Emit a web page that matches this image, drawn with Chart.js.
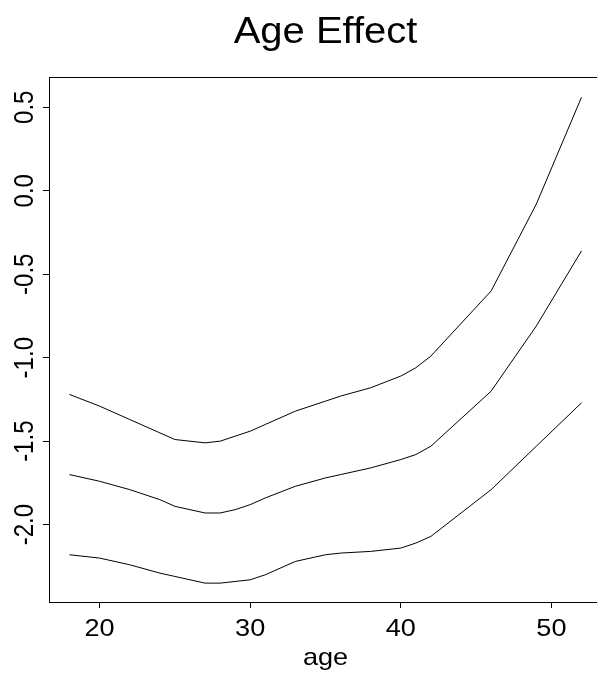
<!DOCTYPE html>
<html>
<head>
<meta charset="utf-8">
<script src="https://cdn.jsdelivr.net/npm/chart.js@4/dist/chart.umd.min.js"></script>
<style>
html,body{margin:0;padding:0;background:#fff;overflow:hidden;width:597px;height:673px;}
canvas{display:block;}
</style>
</head>
<body>
<canvas id="c" width="610" height="673"></canvas>
<script>
const ages  = [18,20,22,24,25,26,27,28,29,30,31,33,35,36,38,40,41,42,46,49,52];
const upper = [-1.22,-1.29,-1.37,-1.45,-1.49,-1.50,-1.51,-1.50,-1.47,-1.44,-1.40,-1.32,-1.26,-1.23,-1.18,-1.11,-1.06,-0.99,-0.60,-0.08,0.56];
const middle= [-1.70,-1.74,-1.79,-1.85,-1.89,-1.91,-1.93,-1.93,-1.91,-1.88,-1.84,-1.77,-1.72,-1.70,-1.66,-1.61,-1.58,-1.53,-1.20,-0.81,-0.36];
const lower = [-2.18,-2.20,-2.24,-2.29,-2.31,-2.33,-2.35,-2.35,-2.34,-2.33,-2.30,-2.22,-2.18,-2.17,-2.16,-2.14,-2.11,-2.07,-1.79,-1.53,-1.27];
const xTicks = [20,30,40,50];
const yTicks = [-2.0,-1.5,-1.0,-0.5,0.0,0.5];
const yTickLabels = ["-2.0","-1.5","-1.0","-0.5","0.0","0.5"];
const titleText = "Age Effect";
const xTitle = "age";

const FONT = '"Liberation Sans", Arial, Helvetica, sans-serif';
const STRETCH = 1.13;

function pts(ys){ return ages.map((a,i)=>({x:a,y:ys[i]})); }
function ds(ys){ return {data:pts(ys),borderColor:'#000',borderWidth:1,pointRadius:0,tension:0,fill:false}; }

const textPlugin = {
  id:'rtext',
  afterDraw(chart){
    const ctx = chart.ctx, a = chart.chartArea;
    const xs = chart.scales.x, ys = chart.scales.y;
    ctx.save();
    // box
    ctx.strokeStyle = '#000'; ctx.lineWidth = 1;
    ctx.beginPath();
    ctx.moveTo(Math.round(a.left)+0.5, Math.round(a.top)+0.5);
    ctx.lineTo(Math.round(a.right)+0.5, Math.round(a.top)+0.5);
    ctx.lineTo(Math.round(a.right)+0.5, Math.round(a.bottom)+0.5);
    ctx.stroke();
    ctx.fillStyle = '#000';
    // title
    ctx.font = '36px ' + FONT;
    ctx.textAlign = 'center'; ctx.textBaseline = 'alphabetic';
    ctx.save(); ctx.translate((a.left+a.right)/2, 42.5); ctx.scale(1.11,1); ctx.fillText(titleText,0,0); ctx.restore();
    // x tick labels
    ctx.font = '24px ' + FONT;
    xTicks.forEach(v=>{
      ctx.save(); ctx.translate(xs.getPixelForValue(v), 636); ctx.scale(STRETCH,1); ctx.fillText(String(v),0,0); ctx.restore();
    });
    // x title
    ctx.save(); ctx.translate((a.left+a.right)/2, 665); ctx.scale(STRETCH,1); ctx.fillText(xTitle,0,0); ctx.restore();
    // y tick labels
    yTicks.forEach((v,i)=>{
      ctx.save(); ctx.translate(33.3, ys.getPixelForValue(v)); ctx.scale(STRETCH,1); ctx.rotate(-Math.PI/2);
      ctx.fillText(yTickLabels[i],0,0); ctx.restore();
    });
    ctx.restore();
  }
};

new Chart(document.getElementById('c'), {
  type:'line',
  data:{datasets:[ds(upper),ds(middle),ds(lower)]},
  options:{
    responsive:false, animation:false, devicePixelRatio:1,
    layout:{padding:{top:77,right:8,left:0,bottom:0}},
    plugins:{legend:{display:false},tooltip:{enabled:false},title:{display:false}},
    scales:{
      x:{type:'linear',min:16.64,max:53.36,
        afterBuildTicks(s){ s.ticks = xTicks.map(v=>({value:v})); },
        afterFit(s){ s.height = 71; },
        ticks:{display:false},
        grid:{drawOnChartArea:false,drawTicks:true,tickLength:6,tickColor:'#000',tickWidth:1},
        border:{display:true,color:'#000',width:1}},
      y:{type:'linear',min:-2.463,max:0.681,
        afterBuildTicks(s){ s.ticks = yTicks.map(v=>({value:v})); },
        afterFit(s){ s.width = 49; },
        ticks:{display:false},
        grid:{drawOnChartArea:false,drawTicks:true,tickLength:6,tickColor:'#000',tickWidth:1},
        border:{display:true,color:'#000',width:1}}
    }
  },
  plugins:[textPlugin]
});
</script>
</body>
</html>
